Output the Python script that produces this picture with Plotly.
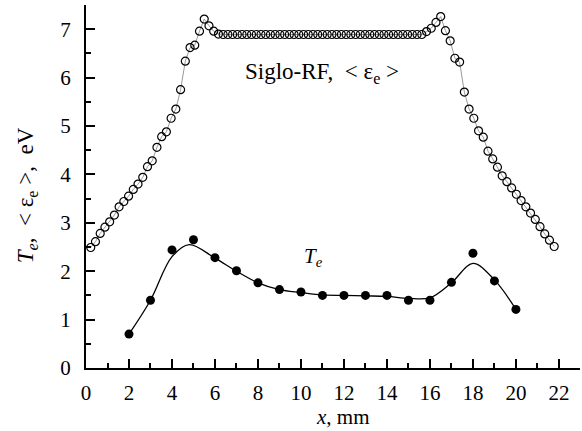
import plotly.graph_objects as go

# Siglo-RF mean electron energy <eps_e> along the gap (open circles)
eps_x = [0.22, 0.44, 0.66, 0.88, 1.10, 1.32, 1.54, 1.76, 1.98, 2.20,
         2.42, 2.64, 2.86, 3.08, 3.30, 3.52, 3.74, 3.96, 4.18, 4.40,
         4.62, 4.84, 5.06, 5.28, 5.50, 5.72, 5.94, 6.16, 6.38, 6.60,
         6.82, 7.04, 7.26, 7.48, 7.70, 7.92, 8.14, 8.36, 8.58, 8.80,
         9.02, 9.24, 9.46, 9.68, 9.90, 10.12, 10.34, 10.56, 10.78, 11.00,
         11.22, 11.44, 11.66, 11.88, 12.10, 12.32, 12.54, 12.76, 12.98, 13.20,
         13.42, 13.64, 13.86, 14.08, 14.30, 14.52, 14.74, 14.96, 15.18, 15.40,
         15.62, 15.84, 16.06, 16.28, 16.50, 16.72, 16.94, 17.16, 17.38, 17.60,
         17.82, 18.04, 18.26, 18.48, 18.70, 18.92, 19.14, 19.36, 19.58, 19.80,
         20.02, 20.24, 20.46, 20.68, 20.90, 21.12, 21.34, 21.56, 21.78]
eps_y = [2.49, 2.61, 2.78, 2.91, 3.02, 3.16, 3.33, 3.44, 3.55, 3.69,
         3.80, 3.94, 4.16, 4.28, 4.56, 4.78, 4.88, 5.16, 5.35, 5.75,
         6.34, 6.62, 6.67, 6.96, 7.21, 7.07, 6.96, 6.90, 6.89, 6.89,
         6.89, 6.89, 6.89, 6.89, 6.89, 6.89, 6.89, 6.89, 6.89, 6.89,
         6.89, 6.89, 6.89, 6.89, 6.89, 6.89, 6.89, 6.89, 6.89, 6.89,
         6.89, 6.89, 6.89, 6.89, 6.89, 6.89, 6.89, 6.89, 6.89, 6.89,
         6.89, 6.89, 6.89, 6.89, 6.89, 6.89, 6.89, 6.89, 6.89, 6.89,
         6.89, 6.95, 7.02, 7.14, 7.26, 6.97, 6.76, 6.40, 6.32, 5.70,
         5.35, 5.16, 4.90, 4.77, 4.48, 4.32, 4.15, 3.97, 3.85, 3.72,
         3.59, 3.46, 3.33, 3.20, 3.07, 2.92, 2.77, 2.64, 2.51]

# Measured electron temperature T_e (filled circles)
te_x = [2, 3, 4, 5, 6, 7, 8, 9, 10, 11, 12, 13, 14, 15, 16, 17, 18, 19, 20]
te_y = [0.70, 1.40, 2.44, 2.65, 2.28, 2.01, 1.76, 1.62, 1.57, 1.50,
        1.50, 1.50, 1.50, 1.40, 1.40, 1.77, 2.37, 1.80, 1.21]

# Smoothed guide curve through the T_e data
fit_x = [2, 3, 4, 4.8, 6, 7, 8, 9, 10, 11, 12, 13, 14, 15, 16, 17, 18, 19, 20]
fit_y = [0.70, 1.40, 2.30, 2.55, 2.27, 2.00, 1.76, 1.62, 1.56, 1.51,
         1.50, 1.49, 1.48, 1.44, 1.45, 1.76, 2.16, 1.82, 1.21]

x_ticks = [0, 2, 4, 6, 8, 10, 12, 14, 16, 18, 20, 22]
y_ticks = [0, 1, 2, 3, 4, 5, 6, 7]

FONT = "Liberation Serif"

fig = go.Figure()

fig.add_trace(go.Scatter(
    x=eps_x, y=eps_y, mode="lines+markers",
    line=dict(color="#808080", width=0.8),
    marker=dict(symbol="circle-open", size=8, color="black", line=dict(width=1.2)),
    showlegend=False))

fig.add_trace(go.Scatter(
    x=fit_x, y=fit_y, mode="lines",
    line=dict(color="black", width=1.3, shape="spline", smoothing=1.0),
    showlegend=False))

fig.add_trace(go.Scatter(
    x=te_x, y=te_y, mode="markers",
    marker=dict(symbol="circle", size=9, color="black"),
    showlegend=False))

axis_common = dict(
    showline=True, linecolor="black", linewidth=2,
    ticks="inside", tickcolor="black", tickwidth=2, ticklen=9,
    showgrid=False, zeroline=False,
    tickfont=dict(family=FONT, size=21, color="black"),
)

fig.update_xaxes(
    range=[0, 22.98], tickvals=x_ticks,
    minor=dict(ticks="inside", dtick=1, tick0=0, ticklen=5, tickwidth=2, tickcolor="black"),
    ticklabelstandoff=5,
    **axis_common)
fig.update_yaxes(
    range=[0, 7.5], tickvals=y_ticks,
    minor=dict(ticks="inside", dtick=0.5, tick0=0, ticklen=5, tickwidth=2, tickcolor="black"),
    ticklabelstandoff=9,
    **axis_common)

fig.update_layout(
    width=582, height=431,
    margin=dict(l=86, r=2, t=5, b=63),
    paper_bgcolor="white", plot_bgcolor="white",
    font=dict(family=FONT, size=19, color="black"),
    annotations=[
        dict(x=0.52, y=-0.135, xref="paper", yref="paper", showarrow=False,
             xanchor="center", yanchor="middle",
             text="<i>x</i>, mm", font=dict(family=FONT, size=21, color="black")),
        dict(x=-0.12, y=0.475, xref="paper", yref="paper", showarrow=False,
             textangle=-90, xanchor="center", yanchor="middle",
             text="<i>T<sub>e</sub></i>,  &lt; ε<sub>e</sub> &gt;,  eV",
             font=dict(family=FONT, size=23, color="black")),
        dict(x=11.0, y=6.1, xref="x", yref="y", showarrow=False,
             xanchor="center", yanchor="middle",
             text="Siglo-RF,  &lt; ε<sub>e</sub> &gt;",
             font=dict(family=FONT, size=23, color="black")),
        dict(x=10.6, y=2.3, xref="x", yref="y", showarrow=False,
             xanchor="center", yanchor="middle",
             text="<i>T<sub>e</sub></i>",
             font=dict(family=FONT, size=21, color="black")),
    ],
)

fig.write_html("out.html")
